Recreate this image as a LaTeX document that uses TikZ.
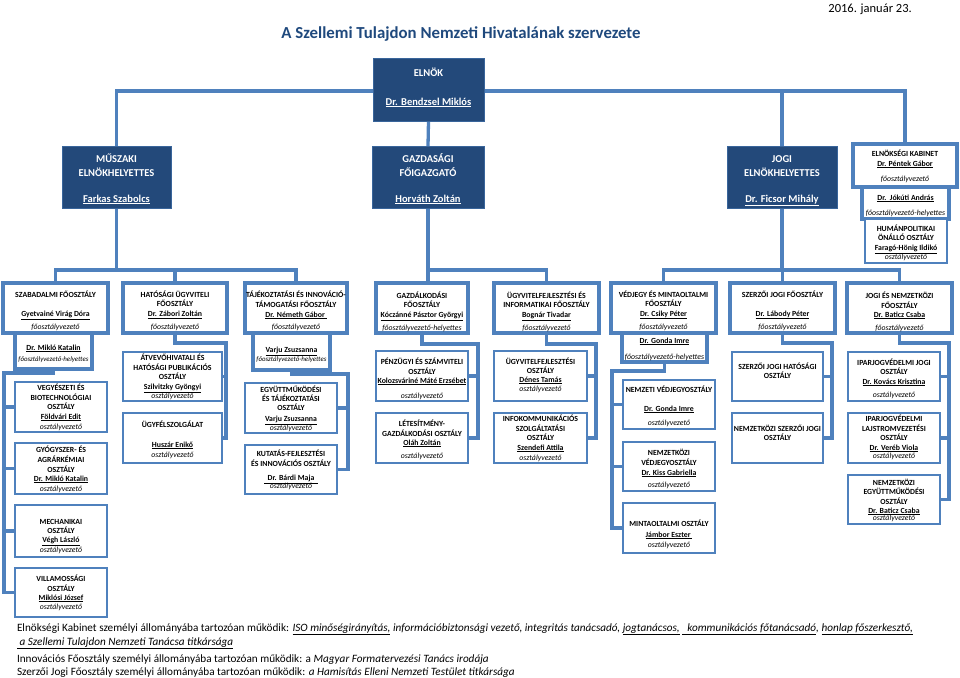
\documentclass[tikz,border=0pt]{standalone}
\usepackage{fontspec}
\setmainfont{Carlito}
\usetikzlibrary{calc}
\definecolor{dkblue}{HTML}{23497A}
\definecolor{lnblue}{HTML}{4F81BD}
\definecolor{ttl}{HTML}{1F497D}
\pgfdeclarelayer{bg}
\pgfsetlayers{bg,main}
\newcounter{tlc}
\newcommand\tl[4][]{\stepcounter{tlc}\node[tline,#1] (t\arabic{tlc}) at (#2,#3) {#4};}
\newcommand\bx[6][thinbox]{\node[#1,anchor=north west,minimum width={#4-#2},minimum height={#5-#3}] (#6) at (#2,#3) {};}
\tikzset{
  conn/.style={draw=lnblue,line width=3.3pt},
  thickbox/.style={draw=lnblue,line width=3.4pt,fill=white,inner sep=0pt,outer sep=0pt},
  thinbox/.style={draw=lnblue,line width=1.3pt,fill=white,inner sep=0pt,outer sep=0pt},
  darkbox/.style={draw=lnblue!50!dkblue,line width=0.8pt,fill=dkblue,inner sep=0pt,outer sep=0pt},
  tline/.style={anchor=base,inner sep=0pt,outer sep=0pt,font=\fontsize{7.8}{9}\selectfont\bfseries},
  it/.style={font=\fontsize{7.8}{9}\selectfont\itshape},
  its/.style={font=\fontsize{6.9}{8}\selectfont\itshape},
  wt/.style={text=white,font=\fontsize{10.5}{12}\selectfont\bfseries},
  foot/.style={anchor=base west,inner sep=0pt,outer sep=0pt,font=\fontsize{11.2}{13}\selectfont}
}
\begin{document}
\begin{tikzpicture}[x=1pt,y=-1pt]
\useasboundingbox (0,0) rectangle (960,677);
% title and date
\node[anchor=base,inner sep=0pt,text=ttl,font=\fontsize{16.8}{19}\selectfont\bfseries] (title) at (461,39) {A Szellemi Tulajdon Nemzeti Hivatalának szervezete};
\node[anchor=base east,inner sep=0pt,font=\fontsize{12.5}{14}\selectfont] (date) at (912,13) {2016. január 23.};
% top level
\bx[darkbox]{373}{58}{484}{121}{elnok}
\bx[darkbox]{62}{146}{171}{208}{muszaki}
\bx[darkbox]{372}{146}{484}{208}{gazd}
\bx[darkbox]{727}{146}{837}{208}{jogi}
\bx[thickbox]{853}{144}{957}{187}{kabinet}
\bx[thickbox]{862}{187}{949}{219}{jokuti}
\bx[thinbox]{865}{219}{947}{263}{human}
\tl[wt]{428.5}{77}{ELNÖK}
\tl[wt]{428.5}{105}{\underline{Dr. Bendzsel Miklós}}
\tl[wt]{116.5}{162}{MŰSZAKI}
\tl[wt]{116.5}{176}{ELNÖKHELYETTES}
\tl[wt]{116.5}{202}{\underline{Farkas Szabolcs}}
\tl[wt]{428}{162}{GAZDASÁGI}
\tl[wt]{428}{176}{FŐIGAZGATÓ}
\tl[wt]{428}{202}{\underline{Horváth Zoltán}}
\tl[wt]{782}{162}{JOGI}
\tl[wt]{782}{176}{ELNÖKHELYETTES}
\tl[wt]{782}{202}{\underline{Dr. Ficsor Mihály}}
\tl{905}{156}{ELNÖKSÉGI KABINET}
\tl{905}{166}{\underline{Dr. Péntek Gábor}}
\tl[it]{905}{181}{főosztályvezető}
\tl{905.5}{200}{\underline{Dr.\ \ Jókúti András}}
\tl[it]{905.5}{215}{főosztályvezető-helyettes}
\tl{906}{231}{HUMÁNPOLITIKAI}
\tl{906}{240}{ÖNÁLLÓ OSZTÁLY}
\tl{906}{250}{\underline{Faragó-Hönig Ildikó}}
\tl[it]{906}{259}{osztályvezető}
% third row
\bx[thickbox]{3}{283}{108}{333}{szab}
\bx[thickbox]{123}{283}{227}{333}{hat}
\bx[thickbox]{245}{283}{347}{333}{taj}
\bx[thickbox]{376}{283}{468}{333}{gazdalk}
\bx[thickbox]{494}{283}{599}{333}{ugyv}
\bx[thickbox]{611}{283}{716}{333}{vedj}
\bx[thickbox]{730}{283}{835}{333}{szerz}
\bx[thickbox]{847}{283}{952}{333}{jn}
\tl{55.5}{297}{SZABADALMI FŐOSZTÁLY}
\tl{55.5}{316.5}{\underline{Gyetvainé Virág Dóra}}
\tl[it]{55.5}{329}{főosztályvezető}
\tl{175}{297}{HATÓSÁGI ÜGYVITELI}
\tl{175}{306.5}{FŐOSZTÁLY}
\tl{175}{316.5}{\underline{Dr. Zábori Zoltán}}
\tl[it]{175}{329}{főosztályvezető}
\tl{296}{297}{TÁJÉKOZTATÁSI ÉS INNOVÁCIÓ-}
\tl{296}{307}{TÁMOGATÁSI FŐOSZTÁLY}
\tl{296}{317}{\underline{Dr. Németh Gábor\ }}
\tl[it]{296}{329}{főosztályvezető}
\tl{422}{298}{GAZDÁLKODÁSI}
\tl{422}{307}{FŐOSZTÁLY}
\tl{422}{317}{\underline{Kóczánné Pásztor Györgyi}}
\tl[it]{422}{330}{főosztályvezető-helyettes}
\tl{546.5}{298}{ÜGYVITELFEJLESZTÉSI ÉS}
\tl{546.5}{307}{INFORMATIKAI FŐOSZTÁLY}
\tl{546.5}{317}{\underline{Bognár Tivadar}}
\tl[it]{546.5}{330}{főosztályvezető}
\tl{663.5}{297}{VÉDJEGY ÉS MINTAOLTALMI}
\tl{663.5}{306}{FŐOSZTÁLY}
\tl{663.5}{316}{\underline{Dr. Csiky Péter}}
\tl[it]{663.5}{329}{főosztályvezető}
\tl{782.5}{297}{SZERZŐI JOGI FŐOSZTÁLY}
\tl{782.5}{316}{\underline{Dr. Lábody Péter}}
\tl[it]{782.5}{329}{főosztályvezető}
\tl{899.5}{298}{JOGI ÉS NEMZETKÖZI}
\tl{899.5}{308}{FŐOSZTÁLY}
\tl{899.5}{317}{\underline{Dr. Baticz Csaba}}
\tl[it]{899.5}{330}{főosztályvezető}
% deputies
\bx[thickbox]{15}{333}{92}{369}{miklo}
\bx[thickbox]{253}{333}{330}{370}{varju}
\bx[thickbox]{622}{333}{707}{362}{gonda}
\tl{53.5}{350}{\underline{Dr. Mikló Katalin}}
\tl[its]{53.5}{361}{főosztályvezető-helyettes}
\tl{291.5}{352}{\underline{Varju Zsuzsanna}}
\tl[its]{291.5}{361}{főosztályvezető-helyettes}
\tl{664.5}{343}{\underline{Dr. Gonda Imre}}
\tl[it]{664.5}{359}{főosztályvezető-helyettes}
% left column
\bx{15}{382}{107}{432}{vegy}
\bx{15}{443}{107}{494}{gyogy}
\bx{15}{505}{107}{557}{mech}
\bx{15}{568}{107}{617}{villam}
\tl{61}{390}{VEGYÉSZETI ÉS}
\tl{61}{400}{BIOTECHNOLÓGIAI}
\tl{61}{409}{OSZTÁLY}
\tl{61}{419}{\underline{Földvári Edit}}
\tl[it]{61}{429}{osztályvezető}
\tl{61}{452}{GYÓGYSZER- ÉS}
\tl{61}{462}{AGRÁRKÉMIAI}
\tl{61}{472}{OSZTÁLY}
\tl{61}{481}{\underline{Dr. Mikló Katalin}}
\tl[it]{61}{491}{osztályvezető}
\tl{61}{524}{MECHANIKAI}
\tl{61}{533}{OSZTÁLY}
\tl{61}{542}{\underline{Végh László}}
\tl[it]{61}{552}{osztályvezető}
\tl{61}{581}{VILLAMOSSÁGI}
\tl{61}{591}{OSZTÁLY}
\tl{61}{600}{\underline{Miklósi József}}
\tl[it]{61}{609}{osztályvezető}
% hatosagi children
\bx{123}{352}{222}{401}{atv}
\bx{123}{413}{222}{463}{ugyf}
\tl{172.5}{360}{ÁTVEVŐHIVATALI ÉS}
\tl{172.5}{370}{HATÓSÁGI PUBLIKÁCIÓS}
\tl{172.5}{379}{OSZTÁLY}
\tl{172.5}{389}{\underline{Szilvitzky Gyöngyi}}
\tl[it]{172.5}{398}{osztályvezető}
\tl{172.5}{427}{ÜGYFÉLSZOLGÁLAT}
\tl{172.5}{447}{\underline{Huszár Enikő}}
\tl[it]{172.5}{457}{osztályvezető}
% tajekoztatasi children
\bx{245}{383}{337}{433}{egy}
\bx{245}{445}{337}{494}{kut}
\tl{291}{392}{EGYÜTTMŰKÖDÉSI}
\tl{291}{401}{ÉS TÁJÉKOZTATÁSI}
\tl{291}{410}{OSZTÁLY}
\tl{291}{421}{\underline{Varju Zsuzsanna}}
\tl[it]{291}{430}{osztályvezető}
\tl{291}{456}{KUTATÁS-FEJLESZTÉSI}
\tl{291}{466}{ÉS INNOVÁCIÓS OSZTÁLY}
\tl{291}{480}{\underline{\ \ Dr. Bárdi Maja\ \ }}
\tl[it]{291}{488.5}{osztályvezető}
% gazdalkodasi children
\bx{376}{351}{468}{401}{penz}
\bx{376}{413}{468}{463}{letes}
\tl{422}{364}{PÉNZÜGYI ÉS SZÁMVITELI}
\tl{422}{374}{OSZTÁLY}
\tl{422}{383}{\underline{Kolozsváriné Máté Erzsébet}}
\tl[it]{422}{398}{osztályvezető}
\tl{422}{426}{LÉTESÍTMÉNY-}
\tl{422}{436}{GAZDÁLKODÁSI OSZTÁLY}
\tl{422}{445}{\underline{Oláh Zoltán}}
\tl[it]{422}{458}{osztályvezető}
% ugyvitel children
\bx{494}{351}{587}{401}{ugyvo}
\bx{494}{413}{587}{463}{info}
\tl{540.5}{364}{ÜGYVITELFEJLESZTÉSI}
\tl{540.5}{373}{OSZTÁLY}
\tl{540.5}{382}{\underline{Dénes Tamás}}
\tl[it]{540.5}{391}{osztályvezető}
\tl{540.5}{421}{INFOKOMMUNIKÁCIÓS}
\tl{540.5}{431}{SZOLGÁLTATÁSI}
\tl{540.5}{440}{OSZTÁLY}
\tl{540.5}{450}{\underline{Szendefi Attila}}
\tl[it]{540.5}{460}{osztályvezető}
% vedjegy children
\bx{623}{380}{715}{429}{nemzv}
\bx{623}{442}{715}{491}{nemzkv}
\bx{623}{503}{715}{553}{minta}
\tl{669}{392}{NEMZETI VÉDJEGYOSZTÁLY}
\tl{669}{411}{\underline{Dr. Gonda Imre}}
\tl[it]{669}{425}{osztályvezető}
\tl{669}{455}{NEMZETKÖZI}
\tl{669}{465}{VÉDJEGYOSZTÁLY}
\tl{669}{475}{\underline{Dr. Kiss Gabriella}}
\tl[it]{669}{487}{osztályvezető}
\tl{669}{526}{MINTAOLTALMI OSZTÁLY}
\tl{669}{537}{\underline{Jámbor Eszter\ }}
\tl[it]{669}{547}{osztályvezető}
% szerzoi children
\bx{732}{352}{823}{401}{szhat}
\bx{732}{413}{823}{463}{nszj}
\tl{777.5}{369}{SZERZŐI JOGI HATÓSÁGI}
\tl{777.5}{378}{OSZTÁLY}
\tl{777.5}{431}{NEMZETKÖZI SZERZŐI JOGI}
\tl{777.5}{440}{OSZTÁLY}
% jogi es nemzetkozi children
\bx{848}{352}{940}{401}{ipj}
\bx{848}{413}{940}{463}{ipl}
\bx{848}{475}{940}{524}{nem}
\tl{894}{365}{IPARJOGVÉDELMI JOGI}
\tl{894}{374}{OSZTÁLY}
\tl{894}{384}{\underline{Dr. Kovács Krisztina}}
\tl[it]{894}{397}{osztályvezető}
\tl{894}{421}{IPARJOGVÉDELMI}
\tl{894}{431}{LAJSTROMVEZETÉSI}
\tl{894}{440}{OSZTÁLY}
\tl{894}{450}{\underline{Dr. Veréb Viola}}
\tl[it]{894}{458}{osztályvezető}
\tl{894}{485}{NEMZETKÖZI}
\tl{894}{494}{EGYÜTTMŰKÖDÉSI}
\tl{894}{504}{OSZTÁLY}
\tl{894}{513}{\underline{Dr. Baticz Csaba}}
\tl[it]{894}{520}{osztályvezető}
% footer
\node[foot] (f1) at (17,631) {Elnökségi Kabinet személyi állományába tartozóan működik: \textit{\underline{ISO minőségirányítás,} információbiztonsági vezető, integritás tanácsadó, \underline{jogtanácsos,}\ \underline{\ \ kommunikációs főtanácsadó},\ \underline{honlap főszerkesztő,}}};
\node[foot] (f2) at (17,645) {\textit{\underline{\ a Szellemi Tulajdon Nemzeti Tanácsa titkársága}}};
\node[foot] (f3) at (17,662) {Innovációs Főosztály személyi állományába tartozóan működik: a \textit{Magyar Formatervezési Tanács irodája}};
\node[foot] (f4) at (17,675) {Szerzői Jogi Főosztály személyi állományába tartozóan működik: \textit{a Hamisítás Elleni Nemzeti Testület titkársága}};
% connectors
\begin{pgfonlayer}{bg}
\coordinate (bus0) at (500,91);
\draw[conn] (muszaki.north) |- (bus0) -| (kabinet.north);
\draw[conn] (jogi.north) -- (jogi.north |- bus0);
\draw[conn] (elnok.south) -- (gazd.north);
\coordinate (bus1) at (175,270);
\draw[conn] (szab.north) |- (bus1) -| (taj.north);
\draw[conn] (muszaki.south) -- (muszaki.south |- bus1);
\draw[conn] (hat.north) -- (hat.north |- bus1);
\coordinate (bus2) at (490,270);
\draw[conn] (gazd.south) |- (bus2) -| (ugyv.north);
\draw[conn] (gazd.south) -- (gazd.south |- gazdalk.north);
\coordinate (bus3) at (782,270);
\draw[conn] (vedj.north) |- (bus3) -| (jn.north);
\draw[conn] (jogi.south) -- (jogi.south |- bus3);
\draw[conn] (szerz.north) -- (szerz.north |- bus3);
\coordinate (j1) at (4,373);
\draw[conn] (miklo.south) |- (j1) |- (villam.west);
\foreach \n in {vegy,gyogy,mech} \draw[conn] (j1 |- \n.west) -- (\n.west);
\coordinate (j2) at (226,343);
\draw[conn] (hat.south) |- (j2) |- (ugyf.east);
\draw[conn] (j2 |- atv.east) -- (atv.east);
\coordinate (j3) at (348,374);
\draw[conn] (varju.south) |- (j3) |- (kut.east);
\draw[conn] (j3 |- egy.east) -- (egy.east);
\coordinate (j4) at (478,344);
\draw[conn] (gazdalk.south) |- (j4) |- (letes.east);
\draw[conn] (j4 |- penz.east) -- (penz.east);
\coordinate (j5) at (596,344);
\draw[conn] (ugyv.south) |- (j5) |- (info.east);
\draw[conn] (j5 |- ugyvo.east) -- (ugyvo.east);
\coordinate (j6) at (612,371);
\draw[conn] (gonda.south) |- (j6) |- (minta.west);
\foreach \n in {nemzv,nemzkv} \draw[conn] (j6 |- \n.west) -- (\n.west);
\coordinate (j7) at (832,343);
\draw[conn] (szerz.south) |- (j7) |- (nszj.east);
\draw[conn] (j7 |- szhat.east) -- (szhat.east);
\coordinate (j8) at (949,343);
\draw[conn] (jn.south) |- (j8) |- (nem.east);
\foreach \n in {ipj,ipl} \draw[conn] (j8 |- \n.west) -- (\n.east);
\end{pgfonlayer}
\end{tikzpicture}
\end{document}
